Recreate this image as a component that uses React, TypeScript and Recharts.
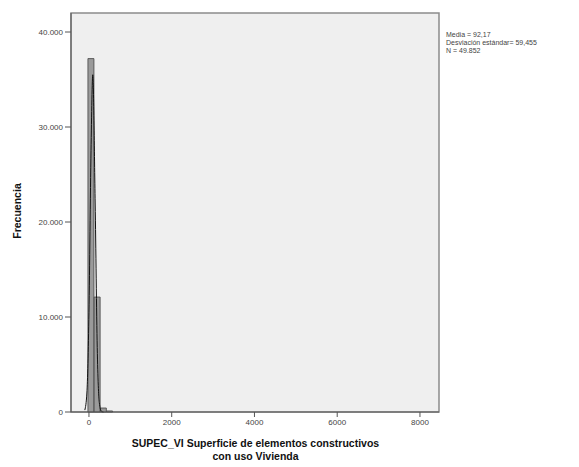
import React from 'react';
import { ComposedChart, Bar, Line, XAxis, YAxis, ReferenceArea } from 'recharts';

// histogram bins (centre of bin, frequency)
const BIN_CENTERS = [50, 200, 350, 500];
const BIN_COUNTS = [37200, 12100, 420, 110];

// normal curve overlay
const CURVE_X = [-100, -50, 0, 50, 92, 150, 200, 250, 300, 350];
const CURVE_Y = [200, 2000, 10500, 27500, 35500, 22000, 6800, 1000, 80, 0];

const X_TICKS = [0, 2000, 4000, 6000, 8000];
const Y_TICKS = [0, 10000, 20000, 30000, 40000];
const STATS = ['Media = 92,17', 'Desviación estándar= 59,455', 'N = 49.852'];

const X_MIN = -434;
const X_MAX = 8460;
const Y_MAX = 42000;

const bins = BIN_CENTERS.map((x, i) => ({ x, count: BIN_COUNTS[i] }));
const curve = CURVE_X.map((x, i) => ({ x, curve: CURVE_Y[i] }));

const fmtY = (v: number) => (v === 0 ? '0' : v.toLocaleString('de-DE'));
const font = '"Liberation Sans", Arial, sans-serif';

export default function App() {
  return (
    <div style={{ position: 'absolute', left: 0, top: 0, width: 579, height: 467, background: '#fff', fontFamily: font }}>
      <ComposedChart width={579} height={467} data={bins} margin={{ top: 13, right: 140, bottom: 0, left: 0 }}>
        <ReferenceArea x1={X_MIN} x2={X_MAX} y1={0} y2={Y_MAX} fill="#efefef" fillOpacity={1} stroke="#8c8c8c" strokeWidth={1.5} />
        <XAxis
          dataKey="x"
          type="number"
          domain={[X_MIN, X_MAX]}
          ticks={X_TICKS}
          allowDataOverflow
          height={55}
          tickSize={5}
          stroke="#555"
          tick={{ fontSize: 8, fill: '#444', fontFamily: font }}
        />
        <XAxis xAxisId="curve" dataKey="x" type="number" domain={[X_MIN, X_MAX]} allowDataOverflow hide />
        <YAxis
          type="number"
          domain={[0, Y_MAX]}
          ticks={Y_TICKS}
          tickFormatter={fmtY}
          width={71}
          tickSize={6}
          stroke="#555"
          tick={{ fontSize: 8, fill: '#444', fontFamily: font }}
        />
        <Bar dataKey="count" barSize={6} fill="#9a9a9a" stroke="#444" strokeWidth={0.8} isAnimationActive={false} />
        <Line xAxisId="curve" data={curve} dataKey="curve" type="monotone" stroke="#111" strokeWidth={1} dot={false} isAnimationActive={false} />
      </ComposedChart>
      <div style={{ position: 'absolute', left: 446, top: 31, fontSize: 7, lineHeight: '8px', color: '#444' }}>
        {STATS.map(s => <div key={s}>{s}</div>)}
      </div>
      <div style={{ position: 'absolute', left: 0, top: 0, width: 34, height: 412, display: 'flex', alignItems: 'center', justifyContent: 'center' }}>
        <div style={{ transform: 'rotate(-90deg)', fontSize: 10.5, fontWeight: 'bold', color: '#111', whiteSpace: 'nowrap', marginTop: 10 }}>Frecuencia</div>
      </div>
      <div style={{ position: 'absolute', left: 71, width: 369, top: 437, textAlign: 'center', fontSize: 10.5, fontWeight: 'bold', lineHeight: '13px', color: '#111' }}>
        SUPEC_VI Superficie de elementos constructivos<br />con uso Vivienda
      </div>
    </div>
  );
}
